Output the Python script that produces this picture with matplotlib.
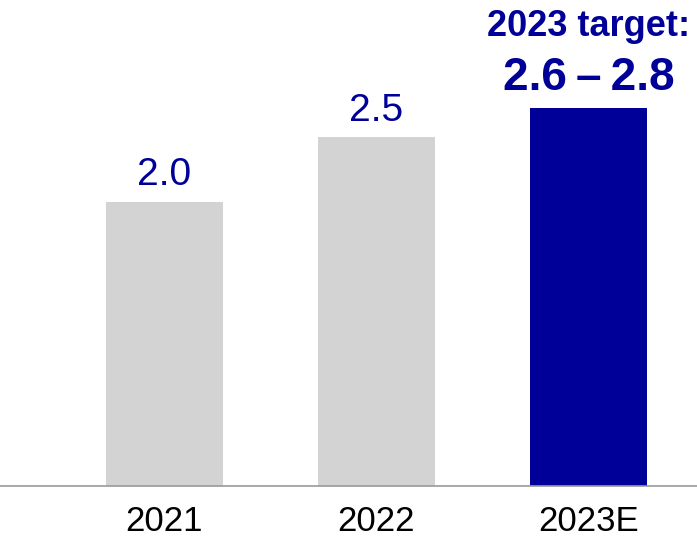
import matplotlib.pyplot as plt

years = ["2021", "2022", "2023E"]
values = [2.03, 2.49, 2.7]
labels = ["2.0", "2.5", None]
colors = ["#d3d3d3", "#d3d3d3", "#000099"]
target_title = "2023 target:"
target_range = "2.6\u2009–\u20092.8"

plt.rcParams['font.family'] = ['Liberation Sans', 'DejaVu Sans']

fig = plt.figure(figsize=(6.97, 5.4), dpi=100)
ax = fig.add_axes([0, 0.1, 1, 0.9])

x = range(len(years))
ax.bar(x, values, width=0.552, color=colors)

for i, (v, lab) in enumerate(zip(values, labels)):
    if lab:
        ax.annotate(lab, (i, v), xytext=(0, 6), textcoords="offset points",
                    ha="center", va="bottom", fontsize=28, color="#000099")

ax.annotate(target_range, (2, values[2]), xytext=(0, 6), textcoords="offset points",
            ha="center", va="bottom", fontsize=33, fontweight="bold", color="#000099")
ax.annotate(target_title, (2, values[2]), xytext=(0, 46), textcoords="offset points",
            ha="center", va="bottom", fontsize=26, fontweight="bold", color="#000099")

ax.set_xlim(-0.776, 2.512)
ax.set_ylim(0, 3.471)
ax.set_xticks(list(x))
ax.set_xticklabels(years, fontsize=25)
ax.tick_params(axis="x", length=0, pad=14)
ax.set_yticks([])
for s in ["top", "right", "left"]:
    ax.spines[s].set_visible(False)
ax.spines["bottom"].set_color("#999999")
ax.spines["bottom"].set_linewidth(1.2)

fig.savefig("out.png", dpi=100)
